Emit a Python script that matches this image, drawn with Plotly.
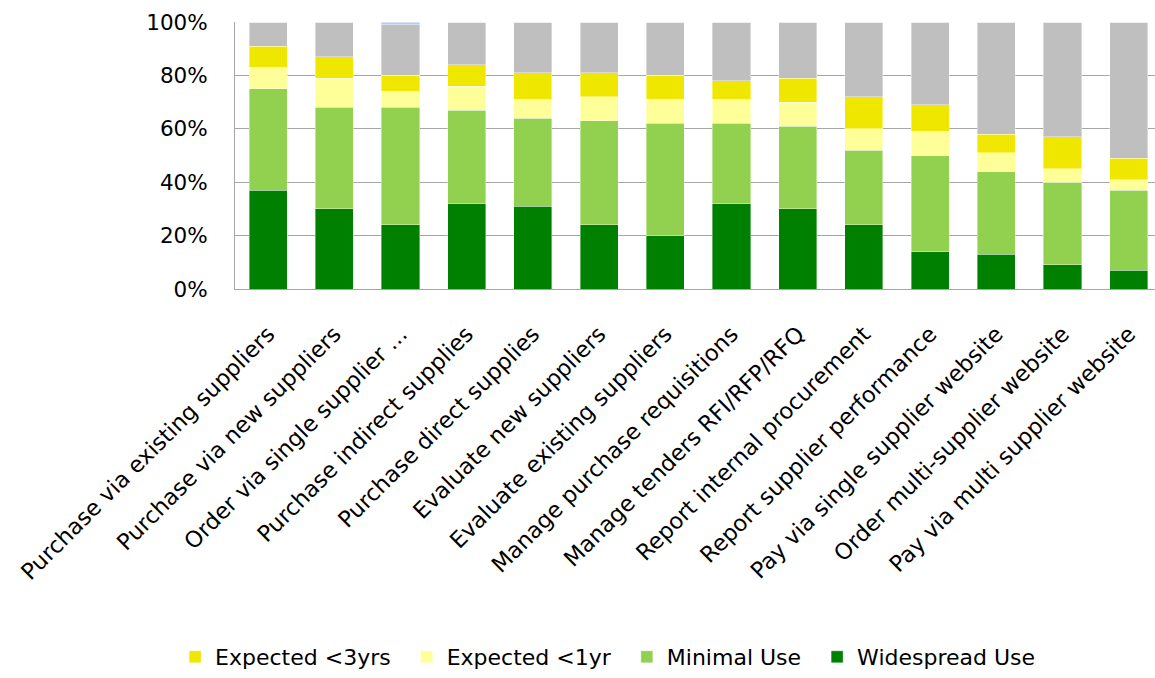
import plotly.graph_objects as go

categories = [
    "Purchase via existing suppliers",
    "Purchase via new suppliers",
    "Order via single supplier ...",
    "Purchase indirect supplies",
    "Purchase direct supplies",
    "Evaluate new suppliers",
    "Evaluate existing suppliers",
    "Manage purchase requisitions",
    "Manage tenders RFI/RFP/RFQ",
    "Report internal procurement",
    "Report supplier performance",
    "Pay via single supplier website",
    "Order multi-supplier website",
    "Pay via multi supplier website",
]

widespread_use = [37, 30, 24, 32, 31, 24, 20, 32, 30, 24, 14, 13, 9, 7]
minimal_use = [38, 38, 44, 35, 33, 39, 42, 30, 31, 28, 36, 31, 31, 30]
expected_1yr = [8, 11, 6, 9, 7, 9, 9, 9, 9, 8, 9, 7, 5, 4]
expected_3yrs = [8, 8, 6, 8, 10, 9, 9, 7, 9, 12, 10, 7, 12, 8]
no_plans = [9, 13, 19, 16, 19, 19, 20, 22, 21, 28, 31, 42, 43, 51]
other = [0, 0, 1, 0, 0, 0, 0, 0, 0, 0, 0, 0, 0, 0]

y_ticks = [0, 20, 40, 60, 80, 100]
y_tick_labels = ["0%", "20%", "40%", "60%", "80%", "100%"]

FONT = "DejaVu Sans"
line = dict(width=0.7, color="rgba(255,255,255,0.55)")
bar_w = 0.575
PAD = "\u2002"

series = [
    ("Widespread Use", widespread_use, "#008000", True),
    ("Minimal Use" + PAD, minimal_use, "#92D050", True),
    ("Expected <1yr" + PAD, expected_1yr, "#FFFF99", True),
    ("Expected <3yrs" + PAD, expected_3yrs, "#F0E700", True),
    ("No plans", no_plans, "#BFBFBF", False),
    ("Other", other, "#B9CDE5", False),
]

fig = go.Figure()
for name, vals, color, show in series:
    fig.add_trace(go.Bar(
        x=categories, y=vals, name=name, width=bar_w,
        marker=dict(color=color, line=line), showlegend=show,
    ))

fig.update_layout(
    barmode="stack",
    width=1155, height=678,
    margin=dict(l=235, r=0, t=22, b=387),
    paper_bgcolor="white", plot_bgcolor="white",
    font=dict(family=FONT, size=21, color="black"),
    legend=dict(
        orientation="h", traceorder="reversed",
        x=0.405, xanchor="center", y=-1.379, yanchor="middle",
        font=dict(family=FONT, size=22),
    ),
)
fig.update_xaxes(
    range=[-0.5, 13.397],
    tickangle=-45, tickfont=dict(family=FONT, size=22.5),
    showline=True, linecolor="#A6A6A6", linewidth=1,
    ticks="", ticklabelstandoff=22,
)
fig.update_yaxes(
    range=[0, 100], tickvals=y_ticks, ticktext=y_tick_labels,
    tickfont=dict(family=FONT, size=21.5),
    showgrid=True, gridcolor="#A6A6A6", gridwidth=1,
    showline=True, linecolor="#A6A6A6", linewidth=1,
    zeroline=False, ticks="", ticklabelstandoff=22,
)

fig.write_html("out.html")
